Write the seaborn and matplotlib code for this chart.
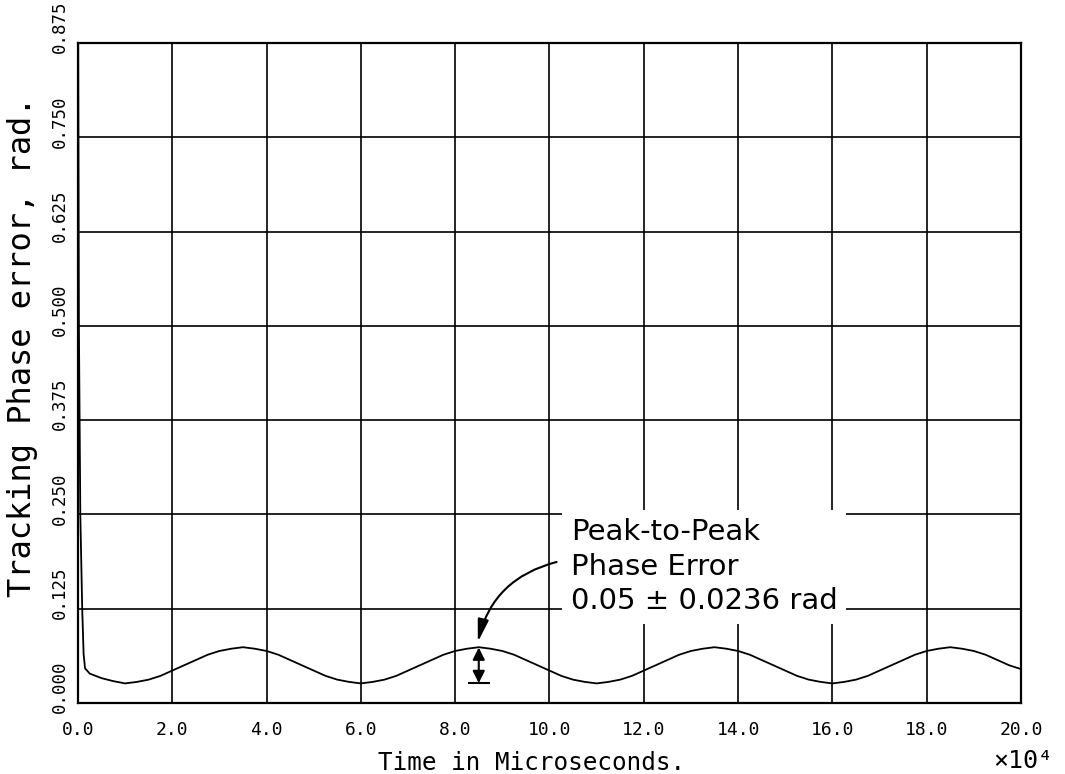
import matplotlib
matplotlib.use("Agg")
import matplotlib.pyplot as plt
import matplotlib.transforms as mtransforms
import seaborn as sns

# -----------------------------
# Data (time in units of 1e4 microseconds)
# -----------------------------
time_us = [
    0.0, 0.02, 0.05, 0.09, 0.12, 0.15, 0.25, 0.5, 0.75,
    1.0, 1.25, 1.5, 1.75, 2.0, 2.25, 2.5, 2.75, 3.0, 3.25,
    3.5, 3.75, 4.0, 4.25, 4.5, 4.75, 5.0, 5.25, 5.5, 5.75,
    6.0, 6.25, 6.5, 6.75, 7.0, 7.25, 7.5, 7.75, 8.0, 8.25,
    8.5, 8.75, 9.0, 9.25, 9.5, 9.75, 10.0, 10.25, 10.5, 10.75,
    11.0, 11.25, 11.5, 11.75, 12.0, 12.25, 12.5, 12.75, 13.0, 13.25,
    13.5, 13.75, 14.0, 14.25, 14.5, 14.75, 15.0, 15.25, 15.5, 15.75,
    16.0, 16.25, 16.5, 16.75, 17.0, 17.25, 17.5, 17.75, 18.0, 18.25,
    18.5, 18.75, 19.0, 19.25, 19.5, 19.75, 20.0,
]
phase_err = [
    1.0, 0.50, 0.25, 0.125, 0.065, 0.046, 0.039, 0.033, 0.029,
    0.026, 0.028, 0.031, 0.036, 0.043, 0.050, 0.057, 0.064, 0.069, 0.072,
    0.074, 0.072, 0.069, 0.064, 0.057, 0.050, 0.043, 0.036, 0.031, 0.028,
    0.026, 0.028, 0.031, 0.036, 0.043, 0.050, 0.057, 0.064, 0.069, 0.072,
    0.074, 0.072, 0.069, 0.064, 0.057, 0.050, 0.043, 0.036, 0.031, 0.028,
    0.026, 0.028, 0.031, 0.036, 0.043, 0.050, 0.057, 0.064, 0.069, 0.072,
    0.074, 0.072, 0.069, 0.064, 0.057, 0.050, 0.043, 0.036, 0.031, 0.028,
    0.026, 0.028, 0.031, 0.036, 0.043, 0.050, 0.057, 0.064, 0.069, 0.072,
    0.074, 0.072, 0.069, 0.064, 0.057, 0.050, 0.045,
]

x_ticks = [0, 2, 4, 6, 8, 10, 12, 14, 16, 18, 20]
x_labels = ["0.0", "2.0", "4.0", "6.0", "8.0", "10.0", "12.0", "14.0", "16.0", "18.0", "20.0"]
y_ticks = [0.0, 0.125, 0.25, 0.375, 0.5, 0.625, 0.75, 0.875]
y_labels = ["0.000", "0.125", "0.250", "0.375", "0.500", "0.625", "0.750", "0.875"]

# annotation values
pp_time = 8.5
pp_mean = 0.05
pp_half = 0.0236

# -----------------------------
# Style
# -----------------------------
sns.set_style("white")
plt.rcParams["font.family"] = ["DejaVu Sans Mono", "DejaVu Sans"]
plt.rcParams["text.color"] = "black"
plt.rcParams["axes.labelcolor"] = "black"
plt.rcParams["xtick.color"] = "black"
plt.rcParams["ytick.color"] = "black"

fig = plt.figure(figsize=(10.65, 7.74), dpi=100)
ax = fig.add_axes([0.0732, 0.0917, 0.8855, 0.8527])

sns.lineplot(x=time_us, y=phase_err, color="black", linewidth=1.3,
             estimator=None, ax=ax)

ax.set_xlim(0, 20)
ax.set_ylim(0, 0.875)
ax.set_xticks(x_ticks)
ax.set_xticklabels(x_labels, fontsize=13)
ax.set_yticks(y_ticks)
ax.set_yticklabels([])

# y labels drawn by hand: the plotter put the decimal point roughly on the tick
ylab_tr = mtransforms.blended_transform_factory(ax.transAxes, ax.transData) + \
    mtransforms.ScaledTranslation(-9 / 100, 16 / 100, fig.dpi_scale_trans)
for t, lab in zip(y_ticks, y_labels):
    ax.text(0, t, lab, transform=ylab_tr, rotation=90, ha="right", va="center",
            fontsize=12.5, clip_on=False)

ax.grid(True, color="black", linewidth=1.2)
for s in ax.spines.values():
    s.set_visible(True)
    s.set_color("black")
    s.set_linewidth(1.6)

ax.tick_params(axis="y", direction="inout", length=10, width=1.3, pad=3)
ax.tick_params(axis="x", direction="out", length=8, width=1.3, pad=5)

ax.set_xlabel("Time in Microseconds.", fontsize=17.5)
ax.xaxis.set_label_coords(0.481, -0.072)
ax.set_ylabel("Tracking Phase error, rad.", fontsize=23)
ax.yaxis.set_label_coords(-0.042, 0.54)

fig.text(0.961, 0.017, "×10⁴", ha="center", va="center", fontsize=18)

# -----------------------------
# Peak-to-peak annotation
# -----------------------------
ax.text(10.45, 0.124, "Peak-to-Peak\nPhase Error\n0.05 ± 0.0236 rad",
        family="DejaVu Sans", fontsize=21, ha="left", va="baseline",
        linespacing=1.3, color="black",
        bbox=dict(boxstyle="square,pad=0.3", fc="white", ec="none"), zorder=4)

ax.annotate("", xy=(8.48, 0.081), xytext=(10.15, 0.187),
            arrowprops=dict(arrowstyle="-|>,head_length=0.9,head_width=0.22",
                            connectionstyle="arc3,rad=0.3", color="black",
                            lw=1.5, shrinkA=0, shrinkB=0, mutation_scale=15),
            zorder=5)

ax.annotate("", xy=(pp_time, pp_mean + pp_half), xytext=(pp_time, pp_mean - pp_half),
            arrowprops=dict(arrowstyle="<|-|>,head_length=0.6,head_width=0.3",
                            color="black", lw=1.5, shrinkA=0, shrinkB=0,
                            mutation_scale=12),
            zorder=5)
ax.hlines(pp_mean - pp_half, pp_time - 0.23, pp_time + 0.23, color="black", lw=1.5)

fig.savefig("out.png", dpi=100)
